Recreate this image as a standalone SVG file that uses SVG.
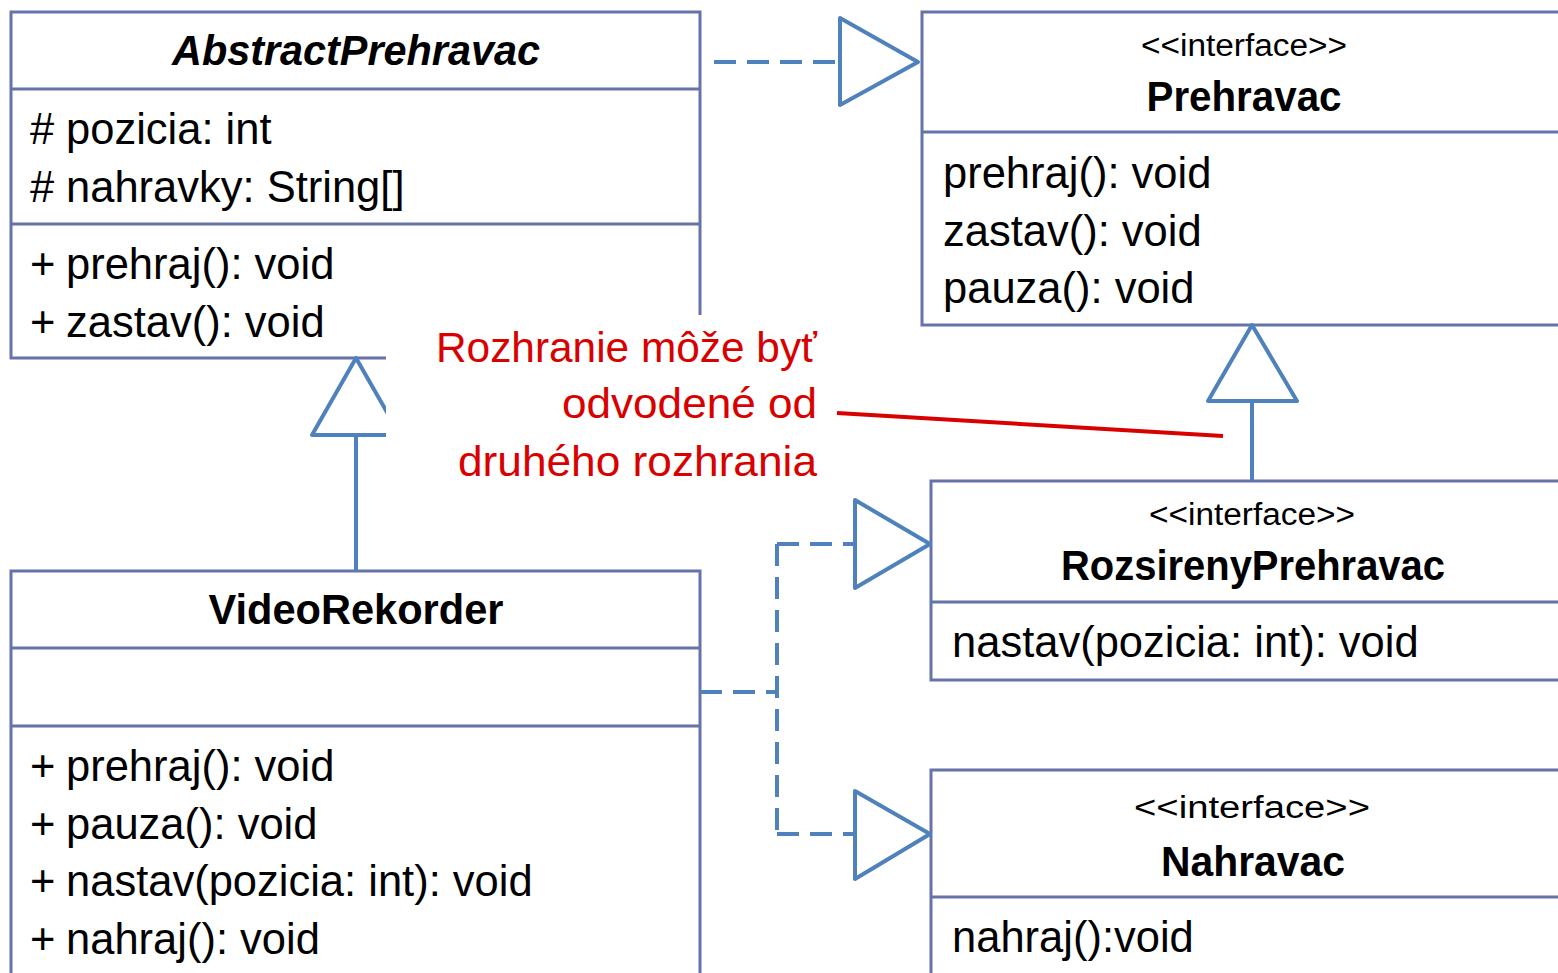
<svg xmlns="http://www.w3.org/2000/svg" width="1558" height="973" viewBox="0 0 1558 973">
<style>
.box{fill:#fff;stroke:#6673a8;stroke-width:3}
.div{stroke:#6673a8;stroke-width:3}
.t{font-family:"Liberation Sans",Arial,sans-serif;font-size:43.5px;fill:#000}
.b{font-family:"Liberation Sans",Arial,sans-serif;font-size:42px;font-weight:bold;fill:#000;text-anchor:middle}
.s{font-family:"Liberation Sans",Arial,sans-serif;font-size:31px;fill:#000;text-anchor:middle}
.c{fill:none;stroke:#4f81bd;stroke-width:4}
.d{fill:none;stroke:#4f81bd;stroke-width:4;stroke-dasharray:22 11}
.tri{fill:#fff;stroke:#4f81bd;stroke-width:4;stroke-linejoin:round}
.r{font-family:"Liberation Sans",Arial,sans-serif;font-size:43px;fill:#d90000;text-anchor:end}
</style>
<rect width="1558" height="973" fill="#fff"/>
<g id="AbstractPrehravac">
<rect class="box" x="11" y="12" width="689" height="346"/>
<line class="div" x1="11" y1="89" x2="700" y2="89"/>
<line class="div" x1="11" y1="224" x2="700" y2="224"/>
<text class="b" x="356" y="65" font-style="italic" textLength="368" lengthAdjust="spacingAndGlyphs">AbstractPrehravac</text>
<text class="t" x="30" y="144">#<tspan x="66">pozicia: int</tspan></text>
<text class="t" x="30" y="202">#<tspan x="66">nahravky: String[]</tspan></text>
<text class="t" x="30" y="279">+<tspan x="66">prehraj(): void</tspan></text>
<text class="t" x="30" y="337">+<tspan x="66">zastav(): void</tspan></text>
</g>
<g id="Prehravac">
<rect class="box" x="922" y="12" width="650" height="313"/>
<line class="div" x1="922" y1="132" x2="1572" y2="132"/>
<text class="s" x="1244" y="56" textLength="206" lengthAdjust="spacingAndGlyphs">&lt;&lt;interface&gt;&gt;</text>
<text class="b" x="1244" y="111" textLength="195" lengthAdjust="spacingAndGlyphs">Prehravac</text>
<text class="t" x="943" y="188">prehraj(): void</text>
<text class="t" x="943" y="246">zastav(): void</text>
<text class="t" x="943" y="303">pauza(): void</text>
</g>
<g id="RozsirenyPrehravac">
<rect class="box" x="931" y="481" width="640" height="199"/>
<line class="div" x1="931" y1="602" x2="1571" y2="602"/>
<text class="s" x="1252" y="525" textLength="206" lengthAdjust="spacingAndGlyphs">&lt;&lt;interface&gt;&gt;</text>
<text class="b" x="1253" y="580" textLength="384" lengthAdjust="spacingAndGlyphs">RozsirenyPrehravac</text>
<text class="t" x="952" y="657">nastav(pozicia: int): void</text>
</g>
<g id="Nahravac">
<rect class="box" x="931" y="770" width="640" height="220"/>
<line class="div" x1="931" y1="897" x2="1571" y2="897"/>
<text class="s" x="1252" y="818" font-size="35" textLength="236" lengthAdjust="spacingAndGlyphs">&lt;&lt;interface&gt;&gt;</text>
<text class="b" x="1253" y="876" textLength="184" lengthAdjust="spacingAndGlyphs">Nahravac</text>
<text class="t" x="952" y="952">nahraj():void</text>
</g>
<g id="VideoRekorder">
<rect class="box" x="11" y="571" width="689" height="420"/>
<line class="div" x1="11" y1="648" x2="700" y2="648"/>
<line class="div" x1="11" y1="726" x2="700" y2="726"/>
<text class="b" x="356" y="624" textLength="295" lengthAdjust="spacingAndGlyphs">VideoRekorder</text>
<text class="t" x="30" y="781">+<tspan x="66">prehraj(): void</tspan></text>
<text class="t" x="30" y="839">+<tspan x="66">pauza(): void</tspan></text>
<text class="t" x="30" y="896">+<tspan x="66">nastav(pozicia: int): void</tspan></text>
<text class="t" x="30" y="954">+<tspan x="66">nahraj(): void</tspan></text>
</g>
<g id="connectors">
<line class="d" x1="714" y1="62" x2="840" y2="62"/>
<polygon class="tri" points="840,18 918,62 840,105"/>
<line class="c" x1="1252" y1="481" x2="1252" y2="401"/>
<polygon class="tri" points="1208,401 1252,325 1297,401"/>
<line class="c" x1="356" y1="571" x2="356" y2="435"/>
<polygon class="tri" points="312,435 356,358 400,435"/>
<path class="d" d="M700,692 H777 M777,544 V834 M777,544 H855 M777,834 H855"/>
<polygon class="tri" points="855,500 930,544 855,588"/>
<polygon class="tri" points="855,791 930,834 855,879"/>
</g>
<g id="note">
<rect x="386" y="315" width="444" height="178" fill="#fff"/>
<text class="r" x="817" y="362" textLength="381" lengthAdjust="spacingAndGlyphs">Rozhranie môže byť</text>
<text class="r" x="817" y="418" textLength="255" lengthAdjust="spacingAndGlyphs">odvodené od</text>
<text class="r" x="817" y="476" textLength="359" lengthAdjust="spacingAndGlyphs">druhého rozhrania</text>
<line x1="837" y1="413" x2="1223" y2="436" stroke="#d90000" stroke-width="4"/>
</g>
</svg>
